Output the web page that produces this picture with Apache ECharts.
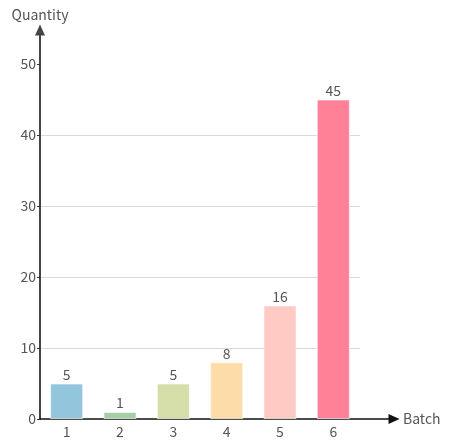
<!DOCTYPE html>
<html>
<head>
<meta charset="utf-8">
<script src="https://cdn.jsdelivr.net/npm/echarts@6/dist/echarts.min.js"></script>
<style>
  html, body { margin: 0; padding: 0; background: #fff; }
  #chart { width: 449px; height: 447px; }
</style>
</head>
<body>
<div id="chart"></div>
<script>
// Batch quantities
const batches = ['1', '2', '3', '4', '5', '6'];
const quantities = [5, 1, 5, 8, 16, 45];
const barColors = ['#93c6dd', '#a6cea8', '#d5dea9', '#fedca8', '#ffc9c4', '#ff8198'];
const yTicks = { min: 0, max: 50, interval: 10 };

const FONT = '"Noto Sans CJK JP", "Noto Sans", sans-serif';
const TEXT = '#555';

const chart = echarts.init(document.getElementById('chart'), null, { renderer: 'canvas' });

chart.setOption({
  animation: false,
  textStyle: { fontFamily: FONT },
  grid: [
    // plot area
    { left: 40, right: 89, top: 64, bottom: 28, containLabel: false },
    // frame carrying the arrowed axis lines
    { left: 40, right: 55, top: 30, bottom: 28, containLabel: false }
  ],
  xAxis: [
    {
      type: 'category',
      gridIndex: 0,
      data: batches,
      axisLine: { show: false },
      axisTick: { show: false },
      axisLabel: { color: TEXT, fontSize: 14, fontFamily: FONT, margin: 6 }
    },
    {
      type: 'value',
      gridIndex: 1,
      min: 0, max: 1,
      axisLine: {
        show: true,
        lineStyle: { color: '#111', width: 1.5 },
        symbol: ['none', 'triangle'],
        symbolSize: [10, 11]
      },
      axisTick: { show: false },
      axisLabel: { show: false },
      splitLine: { show: false },
      name: 'Batch',
      nameLocation: 'end',
      nameGap: 9,
      nameTextStyle: { color: TEXT, fontSize: 14, fontFamily: FONT }
    }
  ],
  yAxis: [
    {
      type: 'value',
      gridIndex: 0,
      min: yTicks.min,
      max: yTicks.max,
      interval: yTicks.interval,
      axisLine: { show: false },
      axisTick: { show: true, length: 3, lineStyle: { color: '#333' } },
      axisLabel: { color: TEXT, fontSize: 14, fontFamily: FONT, margin: 4 },
      splitLine: {
        show: true,
        showMinLine: false,
        showMaxLine: false,
        lineStyle: { color: '#d9d9d9', width: 1 }
      }
    },
    {
      type: 'value',
      gridIndex: 1,
      min: 0, max: 1,
      axisLine: {
        show: true,
        lineStyle: { color: '#444', width: 2 },
        symbol: ['none', 'triangle'],
        symbolSize: [10, 11]
      },
      axisTick: { show: false },
      axisLabel: { show: false },
      splitLine: { show: false },
      name: 'Quantity',
      nameLocation: 'end',
      nameGap: 8,
      nameTextStyle: { color: TEXT, fontSize: 14, fontFamily: FONT }
    }
  ],
  series: [
    {
      type: 'bar',
      xAxisIndex: 0,
      yAxisIndex: 0,
      barWidth: '62%',
      data: quantities.map((v, i) => ({
        value: v,
        itemStyle: { color: barColors[i] }
      })),
      itemStyle: { borderColor: 'rgba(255,255,255,0.6)', borderWidth: 1 },
      label: {
        show: true,
        position: 'top',
        distance: 2,
        color: TEXT,
        fontSize: 14,
        fontFamily: FONT
      }
    }
  ]
});
</script>
</body>
</html>
